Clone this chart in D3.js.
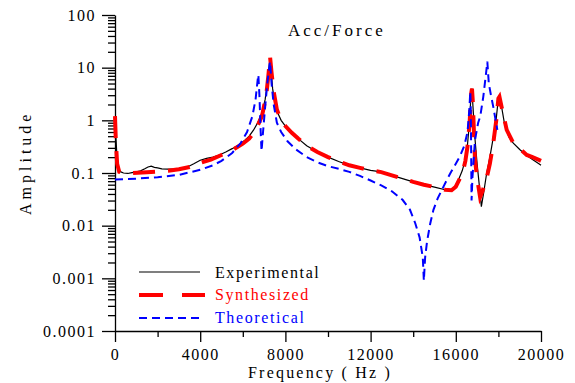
<!DOCTYPE html>
<html><head><meta charset="utf-8">
<script src="https://cdn.jsdelivr.net/npm/d3@7"></script>
<style>body{margin:0;background:#fff}svg{display:block}</style>
</head><body><svg id="c" width="575" height="383"></svg>
<script>
// ---- data ----
const expFreq = [0,30,80,150,250,400,600,800,1000,1200,1400,1550,1700,1850,2000,2200,2500,2800,3100,3400,3700,4000,4300,4600,4900,5200,5500,5800,6100,6300,6500,6700,6900,7050,7150,7250,7290,7330,7400,7500,7600,7800,8000,8300,8600,9000,9500,10000,10500,11000,11500,12000,12500,13000,13500,14000,14500,15000,15500,15700,15900,16100,16300,16450,16550,16650,16720,16760,16800,16900,17000,17100,17200,17300,17450,17600,17750,17900,18000,18050,18150,18300,18500,18700,19000,19300,19600,19900,20000];
const expAmp  = [1.0,0.6,0.25,0.13,0.106,0.1,0.098,0.102,0.105,0.11,0.12,0.13,0.135,0.128,0.125,0.12,0.118,0.119,0.122,0.13,0.15,0.175,0.19,0.2,0.22,0.25,0.29,0.34,0.42,0.5,0.65,0.9,1.4,2.5,5,12,14,9,4,2.2,1.5,1.0,0.78,0.58,0.45,0.33,0.25,0.2,0.165,0.14,0.125,0.112,0.105,0.09,0.078,0.068,0.06,0.054,0.048,0.046,0.05,0.07,0.11,0.18,0.35,1.0,3.5,4.0,2.0,0.45,0.15,0.06,0.023,0.04,0.1,0.2,0.45,1.1,2.6,3.0,1.8,0.8,0.48,0.37,0.28,0.22,0.18,0.15,0.14];

const synFreq = [0,40,100,200,400,800,1500,2000,2500,3000,3500,4000,4500,5000,5500,6000,6300,6600,6900,7100,7200,7280,7350,7450,7600,7800,8000,8300,8600,9000,9500,10000,10500,11000,11500,12000,12500,13000,13500,14000,14500,15000,15500,15800,16000,16200,16350,16450,16550,16650,16720,16760,16800,16900,17000,17140,17250,17450,17600,17760,17900,18000,18050,18150,18390,18700,19000,19330,19600,19870,20000];
const synAmp  = [1.2,0.4,0.15,0.105,0.1,0.1,0.103,0.106,0.11,0.118,0.13,0.155,0.18,0.22,0.27,0.36,0.45,0.65,1.2,3,7,16,8,3.5,1.6,1.0,0.78,0.58,0.45,0.33,0.25,0.2,0.165,0.14,0.125,0.112,0.104,0.09,0.078,0.068,0.06,0.054,0.048,0.047,0.055,0.08,0.114,0.17,0.32,0.9,3.2,4.0,2.2,0.18,0.08,0.035,0.045,0.08,0.15,0.37,1.0,2.6,2.8,1.8,0.66,0.37,0.29,0.22,0.2,0.18,0.17];

const theoFreq = [0,1000,2000,3000,4000,4600,5000,5500,5900,6200,6450,6600,6700,6730,6780,6840,6880,6950,7050,7150,7250,7280,7350,7450,7600,7800,8100,8500,9000,9500,10000,10500,11000,11500,12000,12500,13000,13500,13850,14100,14300,14450,14500,14560,14650,14800,14950,15150,15350,15550,15750,16000,16200,16400,16550,16630,16680,16700,16720,16740,16780,16900,17050,17150,17290,17420,17480,17550,17650,17760,17950];
const theoAmp  = [0.075,0.078,0.083,0.092,0.115,0.14,0.17,0.24,0.37,0.6,1.2,2.5,6,7.3,3,0.6,0.26,0.6,1.8,5,11,13,5,2,0.9,0.6,0.4,0.28,0.2,0.16,0.135,0.12,0.105,0.088,0.072,0.058,0.045,0.031,0.02,0.011,0.006,0.0025,0.0009,0.0025,0.005,0.011,0.02,0.033,0.048,0.07,0.1,0.15,0.21,0.33,0.6,1.5,3.5,2,0.3,0.03,0.08,0.42,0.9,1.2,2.8,7.8,13,5,3,1.8,0.66];

const yMajor = [100,10,1,0.1,0.01,0.001,0.0001];
const yLabels = ["100","10","1","0.1","0.01","0.001","0.0001"];
const xMajor = [0,4000,8000,12000,16000,20000];
const xMinor = [2000,6000,10000,14000,18000];
const seriesNames = ["Experimental","Synthesized","Theoretical"];
const seriesColors = ["#000000","#ff0000","#0000ff"];

// ---- chart ----
const FONT = "'Liberation Serif'";
const svg = d3.select("#c");
const x = d3.scaleLinear().domain([0,20000]).range([115,541]);
const y = d3.scaleLog().domain([1e-4,100]).range([331,15]);

const yMinor = [];
for (let e=-4;e<2;e++) for (let m=2;m<=9;m++) yMinor.push(m*Math.pow(10,e));

function styleAxis(g){
  g.attr("font-family",null);
  g.selectAll("path,line").attr("stroke","#000").attr("stroke-width",1.3);
  g.selectAll("text").style("font-family",FONT).style("font-size","16px").style("letter-spacing","1.5px").attr("fill","#000");
}
svg.append("g").attr("transform","translate(115,0)")
  .call(d3.axisLeft(y).tickValues(yMinor).tickSize(7).tickSizeOuter(0).tickFormat(""))
  .call(styleAxis).select(".domain").remove();
svg.append("g").attr("transform","translate(115,0)")
  .call(d3.axisLeft(y).tickValues(yMajor).tickSize(13).tickSizeOuter(0).tickPadding(6)
    .tickFormat((d,i)=>yLabels[i])).call(styleAxis);
svg.append("g").attr("transform","translate(0,331)")
  .call(d3.axisBottom(x).tickValues(xMinor).tickSize(6).tickSizeOuter(0).tickFormat(""))
  .call(styleAxis).select(".domain").remove();
svg.append("g").attr("transform","translate(0,331)")
  .call(d3.axisBottom(x).tickValues(xMajor).tickSize(11).tickSizeOuter(0).tickPadding(7)
    .tickFormat(d3.format("d"))).call(styleAxis);

const line = d3.line().x(d=>x(d[0])).y(d=>y(d[1]));
const zip = (a,b)=>a.map((v,i)=>[v,b[i]]);
svg.append("path").datum(zip(expFreq,expAmp)).attr("d",line)
  .attr("fill","none").attr("stroke","#000").attr("stroke-width",1.2);
svg.append("path").datum(zip(synFreq,synAmp)).attr("d",line)
  .attr("fill","none").attr("stroke","#ff0000").attr("stroke-width",4).attr("stroke-dasharray","22,13");
svg.append("path").datum(zip(theoFreq,theoAmp)).attr("d",line)
  .attr("fill","none").attr("stroke","#0000ff").attr("stroke-width",2).attr("stroke-dasharray","8,5");

// title
svg.append("text").attr("x",288).attr("y",36).style("font-family",FONT).style("font-size","17px").style("letter-spacing","3px").text("Acc/Force");
// axis titles
svg.append("text").attr("x",248).attr("y",378).style("font-family",FONT).style("font-size","16px").style("letter-spacing","2.2px").text("Frequency ( Hz )");
svg.append("text").attr("transform","translate(31,215) rotate(-90)").style("font-family",FONT).style("font-size","16px").style("letter-spacing","4px").text("Amplitude");

// legend
const legY = [272,295,318];
const legText = [278,300,323];
const dashes = [null,"24,19","8,5"];
const widths = [1.2,4,2];
seriesNames.forEach((n,i)=>{
  svg.append("line").attr("x1",139).attr("x2",i==1?205:200).attr("y1",legY[i]).attr("y2",legY[i])
    .attr("stroke",seriesColors[i]).attr("stroke-width",widths[i]).attr("stroke-dasharray",dashes[i]);
  svg.append("text").attr("x",215).attr("y",legText[i]).style("font-family",FONT).style("font-size","16px").style("letter-spacing","1.6px")
    .style("fill",seriesColors[i]).text(n);
});
</script></body></html>
